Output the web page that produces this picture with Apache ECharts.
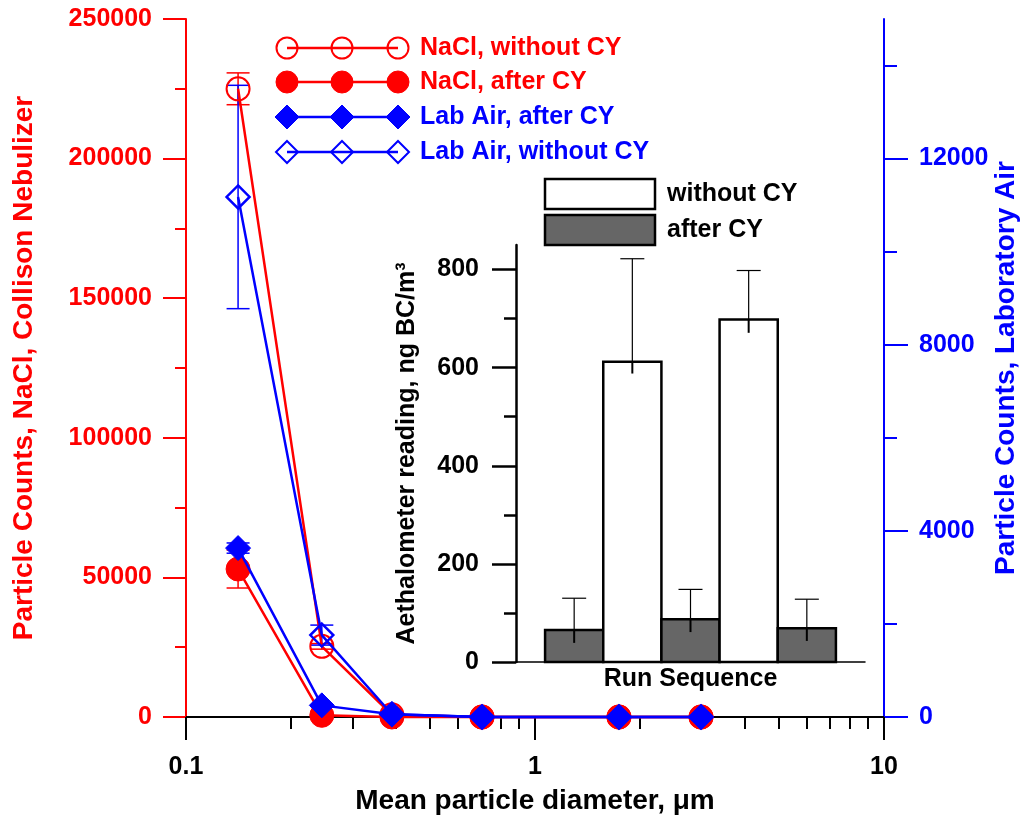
<!DOCTYPE html>
<html>
<head>
<meta charset="utf-8">
<script src="https://cdn.jsdelivr.net/npm/echarts@6/dist/echarts.min.js"></script>
<style>html,body{margin:0;padding:0;background:#fff;}#c{width:1029px;height:824px;}</style>
</head>
<body>
<div id="c"></div>
<script>
// ---- Main chart data ----
const diameters = [0.141, 0.245, 0.389, 0.705, 1.74, 2.99];
const naclWithout = [225000, 25300, 800, 0, 0, 0];
const naclWithoutErr = [5700, 1000, 0, 0, 0, 0];
const naclAfter = [53000, 600, 0, 0, 0, 0];
const naclAfterErr = [6800, 0, 0, 0, 0, 0];
const labAfter = [3630, 250, 60, 0, 0, 0];
const labAfterErr = [110, 0, 0, 0, 0, 0];
const labWithout = [11175, 1760, 60, 0, 0, 0];
const labWithoutErr = [2400, 215, 0, 0, 0, 0];
const rightLabelTicks = [0, 4000, 8000, 12000];
const rightMinorTicks = [2000, 6000, 10000, 14000];
const xMinorTicks = [0.2, 0.3, 0.4, 0.5, 0.6, 0.7, 0.8, 0.9, 2, 3, 4, 5, 6, 7, 8, 9];

// ---- Inset data ----
const runSequence = [1, 2, 3, 4, 5];
const runCondition = ['after CY', 'without CY', 'after CY', 'without CY', 'after CY'];
const bcReading = [65, 612, 87, 698, 69];
const bcErrLow = [39, 588, 61, 671, 43];
const bcErrHigh = [130, 822, 148, 798, 128];
const insetLabelTicks = [0, 200, 400, 600, 800];
const insetMinorTicks = [100, 300, 500, 700];

const RED = '#ff0000', BLUE = '#0000ff', GRAY = '#666666';
const FF = '"Liberation Sans", Arial, Helvetica, sans-serif';

function pairs(xs, ys) { return xs.map((x, i) => [x, ys[i]]); }
function errData(xs, ys, es) {
  const out = [];
  xs.forEach((x, i) => { if (es[i] > 0) out.push([x, ys[i] - es[i], ys[i] + es[i]]); });
  return out;
}
function errRender(color, capW) {
  return function (params, api) {
    const x = api.value(0), lo = api.value(1), hi = api.value(2);
    const p1 = api.coord([x, hi]), p2 = api.coord([x, lo]);
    const h = capW / 2;
    const st = { stroke: color, lineWidth: 1.5 };
    return { type: 'group', children: [
      { type: 'line', shape: { x1: p1[0], y1: p1[1], x2: p2[0], y2: p2[1] }, style: st },
      { type: 'line', shape: { x1: p1[0] - h, y1: p1[1], x2: p1[0] + h, y2: p1[1] }, style: st },
      { type: 'line', shape: { x1: p2[0] - h, y1: p2[1], x2: p2[0] + h, y2: p2[1] }, style: st }
    ]};
  };
}
const plain = v => String(v);

const chart = echarts.init(document.getElementById('c'), null, { renderer: 'canvas' });

// Legend (main) drawn as graphic
const legendItems = [
  { name: 'NaCl, without CY', color: RED, symbol: 'circle', filled: false },
  { name: 'NaCl, after CY', color: RED, symbol: 'circle', filled: true },
  { name: 'Lab Air, after CY', color: BLUE, symbol: 'diamond', filled: true },
  { name: 'Lab Air, without CY', color: BLUE, symbol: 'diamond', filled: false }
];
const legendRowsY = [48, 82, 117, 152];
const legendMarkX = [287, 342, 398];
const graphics = [];
legendItems.forEach((it, i) => {
  const y = legendRowsY[i];
  graphics.push({ type: 'line', shape: { x1: 287, y1: y, x2: 398, y2: y }, style: { stroke: it.color, lineWidth: 2.5 }, z: 10 });
  legendMarkX.forEach(mx => {
    const st = it.filled ? { fill: it.color, stroke: it.color, lineWidth: 1 } : { fill: 'rgba(0,0,0,0)', stroke: it.color, lineWidth: 2 };
    if (it.symbol === 'circle') {
      graphics.push({ type: 'circle', shape: { cx: mx, cy: y, r: it.filled ? 11 : 10.5 }, style: st, z: 11 });
    } else {
      const r = it.filled ? 12 : 11;
      graphics.push({ type: 'polygon', shape: { points: [[mx, y - r], [mx + r, y], [mx, y + r], [mx - r, y]] }, style: st, z: 11 });
    }
  });
  graphics.push({ type: 'text', x: 420, y: y, style: { text: it.name, fill: it.color, font: 'bold 25px ' + FF, textVerticalAlign: 'middle' }, z: 11 });
});
// Inset legend
const insetLegend = [
  { name: 'without CY', fill: '#ffffff', y: 179 },
  { name: 'after CY', fill: GRAY, y: 215 }
];
insetLegend.forEach(it => {
  graphics.push({ type: 'rect', shape: { x: 545, y: it.y, width: 110, height: 30 }, style: { fill: it.fill, stroke: '#000', lineWidth: 2.5 }, z: 11 });
  graphics.push({ type: 'text', x: 667, y: it.y + 15, style: { text: it.name, fill: '#000', font: 'bold 25px ' + FF, textVerticalAlign: 'middle' }, z: 11 });
});

const boldLbl = (color, size) => ({ color: color, fontWeight: 'bold', fontSize: size, fontFamily: FF });

const option = {
  backgroundColor: '#fff',
  animation: false,
  grid: [
    { left: 186, right: 145, top: 19, bottom: 107, outerBoundsMode: 'none', containLabel: false },
    { left: 516, top: 245, width: 349, height: 417, outerBoundsMode: 'none', containLabel: false }
  ],
  xAxis: [
    { // 0 main log axis
      type: 'log', logBase: 10, min: 0.1, max: 10, gridIndex: 0, position: 'bottom',
      axisLine: { show: true, lineStyle: { color: '#000', width: 2 } },
      axisTick: { show: true, length: 23, lineStyle: { color: '#000', width: 2 } },
      minorTick: { show: false },
      splitLine: { show: false },
      axisLabel: Object.assign({ margin: 38, formatter: plain }, boldLbl('#000', 25)),
      name: 'Mean particle diameter, \u03bcm', nameLocation: 'middle', nameGap: 70,
      nameTextStyle: boldLbl('#000', 28)
    },
    { // 1 minor ticks
      type: 'log', logBase: 10, min: 0.1, max: 10, gridIndex: 0, position: 'bottom',
      axisLine: { show: false },
      axisTick: { show: true, length: 12, customValues: xMinorTicks, lineStyle: { color: '#000', width: 2 } },
      axisLabel: { show: false }, splitLine: { show: false }
    },
    { // 2 top border
      type: 'log', logBase: 10, min: 0.1, max: 10, gridIndex: 0, position: 'top',
      axisLine: { show: true, lineStyle: { color: '#000', width: 2 } },
      axisTick: { show: false }, axisLabel: { show: false }, splitLine: { show: false }
    },
    { // 3 inset x
      type: 'value', min: 0, max: 6, gridIndex: 1, position: 'bottom',
      axisLine: { show: true, lineStyle: { color: '#000', width: 1.5 } },
      axisTick: { show: false }, axisLabel: { show: false }, splitLine: { show: false },
      name: 'Run Sequence', nameLocation: 'middle', nameGap: 5,
      nameTextStyle: Object.assign({ verticalAlign: 'top' }, boldLbl('#000', 25))
    }
  ],
  yAxis: [
    { // 0 left NaCl
      type: 'value', min: 0, max: 250000, interval: 50000, gridIndex: 0, position: 'left',
      axisLine: { show: true, lineStyle: { color: RED, width: 2 } },
      axisTick: { show: true, length: 23, lineStyle: { color: RED, width: 2 } },
      minorTick: { show: true, splitNumber: 2, length: 11, lineStyle: { color: RED, width: 2 } },
      splitLine: { show: false },
      axisLabel: Object.assign({ margin: 34, formatter: plain }, boldLbl(RED, 25)),
      name: 'Particle Counts, NaCl, Collison Nebulizer', nameLocation: 'middle', nameGap: 148,
      nameMoveOverlap: false,
      nameTextStyle: boldLbl(RED, 28)
    },
    { // 1 right Lab air
      type: 'value', min: 0, max: 15000, gridIndex: 0, position: 'right',
      axisLine: { show: true, lineStyle: { color: BLUE, width: 2 } },
      axisTick: { show: true, length: 24, customValues: rightLabelTicks, lineStyle: { color: BLUE, width: 2 } },
      splitLine: { show: false },
      axisLabel: Object.assign({ margin: 35, customValues: rightLabelTicks, formatter: plain }, boldLbl(BLUE, 25)),
      name: 'Particle Counts, Laboratory Air', nameLocation: 'middle', nameGap: 108,
      nameMoveOverlap: false,
      nameTextStyle: boldLbl(BLUE, 28)
    },
    { // 2 right minor
      type: 'value', min: 0, max: 15000, gridIndex: 0, position: 'right',
      axisLine: { show: false },
      axisTick: { show: true, length: 13, customValues: rightMinorTicks, lineStyle: { color: BLUE, width: 2 } },
      axisLabel: { show: false }, splitLine: { show: false }
    },
    { // 3 inset y
      type: 'value', min: 0, max: 850, gridIndex: 1, position: 'left',
      axisLine: { show: true, lineStyle: { color: '#000', width: 2.5 } },
      axisTick: { show: true, length: 24, customValues: insetLabelTicks, lineStyle: { color: '#000', width: 2.5 } },
      splitLine: { show: false },
      axisLabel: Object.assign({ margin: 37, customValues: insetLabelTicks, formatter: plain }, boldLbl('#000', 25)),
      name: 'Aethalometer reading, ng BC/m\u00b3', nameLocation: 'middle', nameGap: 96,
      nameMoveOverlap: false,
      nameTextStyle: boldLbl('#000', 25)
    },
    { // 4 inset minor
      type: 'value', min: 0, max: 850, gridIndex: 1, position: 'left',
      axisLine: { show: false },
      axisTick: { show: true, length: 12, customValues: insetMinorTicks, lineStyle: { color: '#000', width: 2.5 } },
      axisLabel: { show: false }, splitLine: { show: false }
    }
  ],
  series: [
    { type: 'custom', name: 'err NaCl without', xAxisIndex: 0, yAxisIndex: 0, z: 2,
      renderItem: errRender(RED, 23), data: errData(diameters, naclWithout, naclWithoutErr), clip: false },
    { type: 'custom', name: 'err NaCl after', xAxisIndex: 0, yAxisIndex: 0, z: 2,
      renderItem: errRender(RED, 23), data: errData(diameters, naclAfter, naclAfterErr), clip: false },
    { type: 'custom', name: 'err Lab after', xAxisIndex: 0, yAxisIndex: 1, z: 2,
      renderItem: errRender(BLUE, 23), data: errData(diameters, labAfter, labAfterErr), clip: false },
    { type: 'custom', name: 'err Lab without', xAxisIndex: 0, yAxisIndex: 1, z: 2,
      renderItem: errRender(BLUE, 23), data: errData(diameters, labWithout, labWithoutErr), clip: false },
    { type: 'line', name: 'NaCl, without CY', xAxisIndex: 0, yAxisIndex: 0, z: 3,
      data: pairs(diameters, naclWithout), symbol: 'circle', symbolSize: 23, clip: false,
      lineStyle: { color: RED, width: 2.5 }, itemStyle: { color: 'rgba(0,0,0,0)', borderColor: RED, borderWidth: 2 } },
    { type: 'line', name: 'NaCl, after CY', xAxisIndex: 0, yAxisIndex: 0, z: 4,
      data: pairs(diameters, naclAfter), symbol: 'circle', symbolSize: 24, clip: false,
      lineStyle: { color: RED, width: 2.5 }, itemStyle: { color: RED, borderColor: RED, borderWidth: 1 } },
    { type: 'line', name: 'Lab Air, without CY', xAxisIndex: 0, yAxisIndex: 1, z: 5,
      data: pairs(diameters, labWithout), symbol: 'diamond', symbolSize: 23, clip: false,
      lineStyle: { color: BLUE, width: 2.5 }, itemStyle: { color: 'rgba(0,0,0,0)', borderColor: BLUE, borderWidth: 2.5 } },
    { type: 'line', name: 'Lab Air, after CY', xAxisIndex: 0, yAxisIndex: 1, z: 6,
      data: pairs(diameters, labAfter), symbol: 'diamond', symbolSize: 25, clip: false,
      lineStyle: { color: BLUE, width: 2.5 }, itemStyle: { color: BLUE, borderColor: BLUE, borderWidth: 1 } },
    { // inset bars
      type: 'custom', name: 'Aethalometer', xAxisIndex: 3, yAxisIndex: 3, z: 8,
      data: runSequence.map((r, i) => [r, bcReading[i]]),
      renderItem: function (params, api) {
        const x = api.value(0), v = api.value(1);
        const a = api.coord([x - 0.5, v]), b = api.coord([x + 0.5, 0]);
        const fill = runCondition[params.dataIndex] === 'after CY' ? GRAY : '#ffffff';
        return { type: 'rect', shape: { x: a[0], y: a[1], width: b[0] - a[0], height: b[1] - a[1] },
          style: { fill: fill, stroke: '#000', lineWidth: 2.5 } };
      }
    },
    { // inset error bars
      type: 'custom', name: 'Aethalometer err', xAxisIndex: 3, yAxisIndex: 3, z: 9,
      data: runSequence.map((r, i) => [r, bcReading[i], bcErrLow[i], bcErrHigh[i]]),
      renderItem: function (params, api) {
        const x = api.value(0);
        const pv = api.coord([x, api.value(1)]), pl = api.coord([x, api.value(2)]), ph = api.coord([x, api.value(3)]);
        return { type: 'group', children: [
          { type: 'line', shape: { x1: pv[0], y1: pv[1], x2: ph[0], y2: ph[1] }, style: { stroke: '#000', lineWidth: 1.2 } },
          { type: 'line', shape: { x1: ph[0] - 12, y1: ph[1], x2: ph[0] + 12, y2: ph[1] }, style: { stroke: '#000', lineWidth: 1.2 } },
          { type: 'line', shape: { x1: pv[0], y1: pv[1], x2: pl[0], y2: pl[1] }, style: { stroke: '#000', lineWidth: 2 } }
        ]};
      }
    }
  ],
  graphic: graphics
};
chart.setOption(option);
</script>
</body>
</html>
